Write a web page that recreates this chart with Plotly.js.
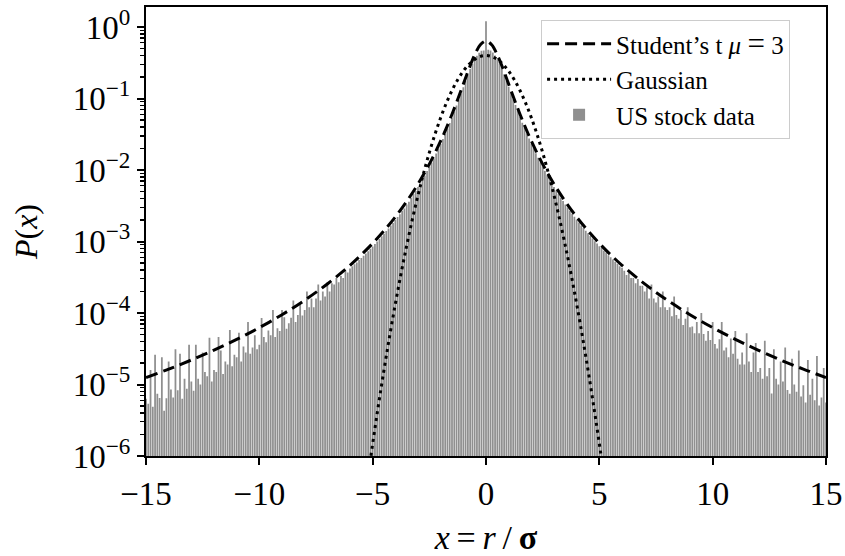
<!DOCTYPE html>
<html>
<head>
<meta charset="utf-8">
<script src="https://cdn.plot.ly/plotly-3.0.1.min.js"></script>
<style>
  html, body { margin: 0; padding: 0; background: #ffffff; }
  #chart { width: 845px; height: 556px; }
</style>
</head>
<body>
<div id="chart"></div>
<script>
// Student's t density (mu = 3), sampled along x = r / sigma
const studentX = [-15, -14, -13, -12, -11, -10, -9, -8, -7, -6, -5.5, -5, -4.5, -4, -3.5, -3, -2.5, -2,
  -1.75, -1.5, -1.25, -1, -0.75, -0.5, -0.25, 0, 0.25, 0.5, 0.75, 1, 1.25, 1.5, 1.75,
  2, 2.5, 3, 3.5, 4, 4.5, 5, 5.5, 6, 7, 8, 9, 10, 11, 12, 13, 14, 15];
const studentP = [1.25e-5, 1.64e-5, 2.20e-5, 3.03e-5, 4.28e-5, 6.24e-5, 9.47e-5, 1.51e-4, 2.55e-4, 4.65e-4,
  6.52e-4, 9.42e-4, 1.41e-3, 2.20e-3, 3.63e-3, 6.37e-3, 1.21e-2, 2.55e-2,
  3.86e-2, 6.03e-2, 9.70e-2, 0.159, 0.261, 0.407, 0.564, 0.637, 0.564, 0.407, 0.261, 0.159, 9.70e-2, 6.03e-2, 3.86e-2,
  2.55e-2, 1.21e-2, 6.37e-3, 3.63e-3, 2.20e-3, 1.41e-3, 9.42e-4, 6.52e-4, 4.65e-4, 2.55e-4, 1.51e-4, 9.47e-5,
  6.24e-5, 4.28e-5, 3.03e-5, 2.20e-5, 1.64e-5, 1.25e-5];

// Gaussian density
const gaussX = [-5.5, -5.25, -5, -4.75, -4.5, -4.25, -4, -3.75, -3.5, -3.25, -3, -2.75, -2.5, -2.25, -2,
  -1.75, -1.5, -1.25, -1, -0.75, -0.5, -0.25, 0, 0.25, 0.5, 0.75, 1, 1.25, 1.5, 1.75,
  2, 2.25, 2.5, 2.75, 3, 3.25, 3.5, 3.75, 4, 4.25, 4.5, 4.75, 5, 5.25, 5.5];
const gaussP = [1.08e-7, 4.13e-7, 1.487e-6, 5.03e-6, 1.598e-5, 4.77e-5, 1.338e-4, 3.53e-4, 8.73e-4, 2.029e-3,
  4.432e-3, 9.09e-3, 1.753e-2, 3.17e-2, 5.40e-2, 8.63e-2, 0.1295, 0.1826, 0.2420, 0.3011, 0.3521, 0.3867,
  0.3989, 0.3867, 0.3521, 0.3011, 0.2420, 0.1826, 0.1295, 8.63e-2, 5.40e-2, 3.17e-2, 1.753e-2, 9.09e-3,
  4.432e-3, 2.029e-3, 8.73e-4, 3.53e-4, 1.338e-4, 4.77e-5, 1.598e-5, 5.03e-6, 1.487e-6, 4.13e-7, 1.08e-7];

// Empirical histogram of normalised US stock returns, bins of 0.1 from -15.0 to 15.0
const binStart = -15.0;
const binWidth = 0.1;
const stockP = [
  // -15.0 .. -10.1
  6.3e-6, 5.4e-6, 1.6e-5, 4.9e-6, 2.6e-5, 7.4e-6, 6.5e-6, 2.4e-5, 4.3e-6, 6.4e-6,
  2.1e-5, 8.5e-6, 6.6e-6, 3.1e-5, 8.3e-6, 2.7e-5, 6.3e-6, 1.2e-5, 8.7e-6, 3.6e-5,
  1.1e-5, 8.2e-6, 3.6e-5, 1.2e-5, 1.0e-5, 2.8e-5, 1.5e-5, 1.3e-5, 4.5e-5, 1.1e-5,
  1.6e-5, 1.5e-5, 4.6e-5, 3.0e-5, 1.4e-5, 2.1e-5, 1.9e-5, 5.8e-5, 1.8e-5, 2.6e-5,
  2.4e-5, 5.3e-5, 2.1e-5, 3.4e-5, 2.8e-5, 7.5e-5, 2.7e-5, 3.3e-5, 4.9e-5, 3.1e-5,
  // -10.0 .. -5.1
  3.6e-5, 8.5e-5, 4.6e-5, 3.9e-5, 5.7e-5, 4.9e-5, 1.1e-4, 4.6e-5, 6.1e-5, 5.6e-5,
  1.1e-4, 8.7e-5, 6.0e-5, 7.2e-5, 8.6e-5, 1.5e-4, 7.5e-5, 9.4e-5, 1.3e-4, 9.2e-5,
  1.1e-4, 2.0e-4, 1.2e-4, 1.6e-4, 1.2e-4, 1.6e-4, 2.5e-4, 1.5e-4, 2.0e-4, 1.7e-4,
  2.7e-4, 2.0e-4, 2.6e-4, 2.5e-4, 3.1e-4, 2.7e-4, 3.3e-4, 3.1e-4, 3.9e-4, 3.7e-4,
  4.2e-4, 4.5e-4, 4.8e-4, 5.1e-4, 5.5e-4, 5.9e-4, 6.3e-4, 6.8e-4, 7.3e-4, 7.9e-4,
  // -5.0 .. -0.1
  8.5e-4, 9.2e-4, 1.0e-3, 1.08e-3, 1.18e-3, 1.28e-3, 1.40e-3, 1.52e-3, 1.67e-3, 1.82e-3,
  2.0e-3, 2.2e-3, 2.4e-3, 2.7e-3, 2.9e-3, 3.3e-3, 3.6e-3, 4.1e-3, 4.6e-3, 5.1e-3,
  5.8e-3, 6.5e-3, 7.4e-3, 8.4e-3, 9.7e-3, 1.10e-2, 1.27e-2, 1.46e-2, 1.70e-2, 1.98e-2,
  2.31e-2, 2.72e-2, 3.2e-2, 3.8e-2, 4.55e-2, 5.4e-2, 6.6e-2, 8.0e-2, 9.7e-2, 0.118,
  0.144, 0.176, 0.214, 0.258, 0.305, 0.35, 0.395, 0.435, 0.465, 0.47,
  // 0.0
  1.2,
  // 0.1 .. 5.0
  0.48, 0.47, 0.44, 0.40, 0.355, 0.31, 0.262, 0.218, 0.178, 0.146,
  0.120, 0.098, 0.081, 0.067, 0.055, 0.046, 0.039, 0.0325, 0.0277, 0.0234,
  0.0201, 0.0172, 0.0148, 0.0128, 0.0111, 0.0098, 0.0085, 0.0075, 0.0066, 0.0058,
  5.2e-3, 4.6e-3, 4.1e-3, 3.7e-3, 3.3e-3, 3.0e-3, 2.7e-3, 2.45e-3, 2.22e-3, 2.02e-3,
  1.85e-3, 1.68e-3, 1.55e-3, 1.41e-3, 1.30e-3, 1.19e-3, 1.10e-3, 1.01e-3, 9.4e-4, 8.6e-4,
  // 5.1 .. 10.0
  8.1e-4, 7.4e-4, 7.0e-4, 6.4e-4, 6.0e-4, 5.6e-4, 5.2e-4, 4.9e-4, 4.5e-4, 4.3e-4,
  3.9e-4, 3.4e-4, 3.7e-4, 3.1e-4, 3.1e-4, 2.6e-4, 3.0e-4, 2.4e-4, 2.4e-4, 2.0e-4,
  2.3e-4, 1.6e-4, 2.5e-4, 1.6e-4, 1.4e-4, 1.7e-4, 1.2e-4, 2.0e-4, 1.2e-4, 1.1e-4,
  1.2e-4, 9.0e-5, 1.7e-4, 9.4e-5, 8.3e-5, 1.1e-4, 6.8e-5, 8.3e-5, 1.2e-4, 6.3e-5,
  6.5e-5, 5.2e-5, 7.5e-5, 5.2e-5, 1.0e-4, 5.1e-5, 4.1e-5, 5.6e-5, 4.2e-5, 7.5e-5,
  // 10.1 .. 15.0
  3.7e-5, 3.2e-5, 4.3e-5, 7.5e-5, 3.0e-5, 3.3e-5, 2.4e-5, 4.4e-5, 2.7e-5, 5.6e-5,
  2.3e-5, 1.9e-5, 2.8e-5, 1.9e-5, 5.2e-5, 2.1e-5, 1.5e-5, 2.8e-5, 3.8e-5, 1.5e-5,
  1.7e-5, 1.2e-5, 4.1e-5, 1.3e-5, 1.7e-5, 7.5e-6, 3.1e-5, 1.2e-5, 1.0e-5, 2.1e-5,
  1.1e-5, 3.3e-5, 8.4e-6, 7.4e-6, 2.3e-5, 1.0e-5, 7.9e-6, 3.0e-5, 6.8e-6, 9.8e-6,
  5.6e-6, 2.2e-5, 7.2e-6, 1.2e-5, 6.0e-6, 2.5e-5, 5.1e-6, 6.6e-6, 1.7e-5, 5.6e-6
];
const binCenters = stockP.map((_, i) => +(binStart + i * binWidth).toFixed(1));

// Axis ticks
const xTickVals = [-15, -10, -5, 0, 5, 10, 15];
const xTickText = ['\u221215', '\u221210', '\u22125', '0', '5', '10', '15'];
const yTickVals = [1e-6, 1e-5, 1e-4, 1e-3, 1e-2, 1e-1, 1];
const yTickText = ['10<sup>\u22126</sup>', '10<sup>\u22125</sup>', '10<sup>\u22124</sup>',
  '10<sup>\u22123</sup>', '10<sup>\u22122</sup>', '10<sup>\u22121</sup>', '10<sup>0</sup>'];

// minor log ticks 2..9 within each decade
const yMinorVals = [];
for (let e = -6; e <= 0; e++) {
  for (let m = 2; m <= 9; m++) yMinorVals.push(m * Math.pow(10, e));
}

const serif = 'Liberation Serif, Times New Roman, serif';

const traces = [
  {
    type: 'scatter', mode: 'lines', name: 'Student\u2019s t <i>\u03bc</i> <span style="font-size:31px">=</span> 3',
    x: studentX, y: studentP,
    line: { color: '#000000', width: 3, dash: '12px,6px', shape: 'spline' }
  },
  {
    type: 'scatter', mode: 'lines', name: 'Gaussian',
    x: gaussX, y: gaussP,
    line: { color: '#000000', width: 3, dash: '3px,4px', shape: 'spline' }
  },
  {
    type: 'bar', name: 'US stock data',
    x: binCenters, y: stockP,
    marker: { color: '#8f8f8f', line: { width: 0 } }
  }
];

const layout = {
  width: 845, height: 556,
  margin: { l: 146, r: 19, t: 7, b: 100 },
  paper_bgcolor: '#ffffff', plot_bgcolor: '#ffffff',
  font: { family: serif, color: '#000000', size: 30 },
  bargap: 0.22,
  showlegend: true,
  legend: {
    x: 0.581, y: 0.971, xanchor: 'left', yanchor: 'top',
    bgcolor: 'rgba(255,255,255,0.85)', bordercolor: '#cccccc', borderwidth: 1,
    font: { family: serif, size: 25, color: '#000000' },
    itemwidth: 64,
    traceorder: 'normal', tracegroupgap: 0
  },
  xaxis: {
    range: [-15, 15],
    tickmode: 'array', tickvals: xTickVals, ticktext: xTickText,
    ticks: 'outside', ticklen: 7, tickwidth: 2, tickcolor: '#000000',
    showline: true, linewidth: 2, linecolor: '#000000', mirror: true,
    showgrid: false, zeroline: false,
    tickfont: { family: serif, size: 33 },
    title: { text: '<i>x</i>\u2009=\u2009<i>r</i>\u2009/\u2009<b>\u03c3</b>', font: { family: serif, size: 34 }, standoff: 16 }
  },
  yaxis: {
    type: 'log', range: [-6, 0.28],
    tickmode: 'array', tickvals: yTickVals, ticktext: yTickText,
    ticks: 'outside', ticklen: 7, tickwidth: 2, tickcolor: '#000000',
    minor: { tickmode: 'array', tickvals: yMinorVals, ticks: 'outside', ticklen: 4, tickwidth: 1.2, tickcolor: '#000000', showgrid: false },
    showline: true, linewidth: 2, linecolor: '#000000', mirror: true,
    showgrid: false, zeroline: false,
    tickfont: { family: serif, size: 33 },
    title: { text: '<i>P</i>(<i>x</i>)', font: { family: serif, size: 32 }, standoff: 26 }
  }
};

Plotly.newPlot('chart', traces, layout, { staticPlot: true, displayModeBar: false });
</script>
</body>
</html>
